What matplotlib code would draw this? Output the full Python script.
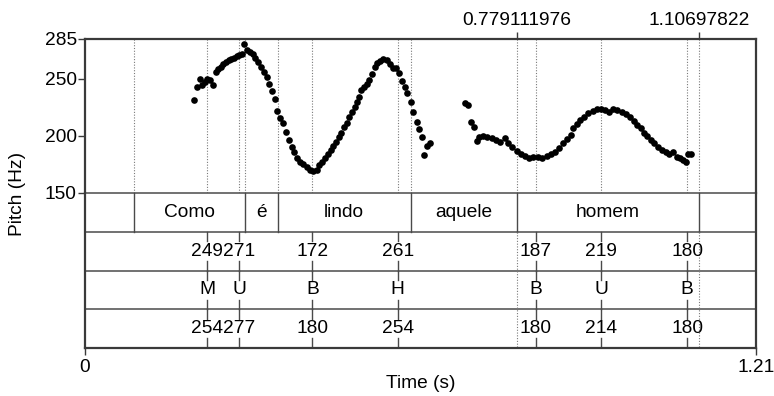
import matplotlib
matplotlib.use("Agg")
import matplotlib.pyplot as plt

plt.rcParams['font.family'] = ['Liberation Sans', 'DejaVu Sans']

# --- data ---
# pitch contour (time s, Hz)
t_seg1 = [0.1966, 0.2020, 0.2074, 0.2116, 0.2164, 0.2206, 0.2254, 0.2314, 0.2362, 0.2404,
          0.2447, 0.2494, 0.2543, 0.2591, 0.2638, 0.2687, 0.2735, 0.2783, 0.2831, 0.2873,
          0.2916, 0.2976, 0.3024, 0.3072, 0.3126, 0.3174, 0.3228, 0.3276, 0.3324, 0.3372,
          0.3421, 0.3468, 0.3517, 0.3571, 0.3619, 0.3673, 0.3727, 0.3769, 0.3818, 0.3877,
          0.3937, 0.3998, 0.4058, 0.4118, 0.4178, 0.4226, 0.4280, 0.4328, 0.4377, 0.4431,
          0.4478, 0.4527, 0.4575, 0.4622, 0.4671, 0.4719, 0.4766, 0.4815, 0.4864, 0.4911,
          0.4947, 0.4983, 0.5032, 0.5080, 0.5127, 0.5176, 0.5225, 0.5271, 0.5320, 0.5380,
          0.5441, 0.5500, 0.5560, 0.5610, 0.5670, 0.5717, 0.5766, 0.5813, 0.5874, 0.5921,
          0.5982, 0.6029, 0.6078, 0.6119, 0.6168, 0.6222]
f_seg1 = [231.2, 242.9, 250.0, 245.0, 247.3, 250.0, 248.8, 245.0, 256.0, 258.7,
          260.7, 263.0, 264.8, 266.3, 267.5, 268.6, 269.8, 270.7, 271.9, 280.3,
          275.4, 273.3, 271.6, 268.6, 264.6, 260.7, 256.0, 251.7, 245.8, 239.7,
          232.1, 221.6, 215.5, 211.1, 203.2, 196.5, 190.6, 186.2, 180.4, 177.4,
          175.2, 172.5, 170.2, 169.6, 170.2, 174.5, 176.9, 180.4, 184.2, 187.7,
          191.5, 195.0, 199.4, 202.9, 207.6, 211.6, 216.9, 221.3, 225.7, 230.0,
          233.9, 240.3, 243.2, 245.5, 249.0, 254.3, 260.7, 263.7, 266.0, 267.2,
          266.6, 263.1, 259.3, 259.3, 255.5, 248.5, 243.2, 237.9, 230.0, 221.3,
          212.5, 205.8, 198.8, 183.3, 191.2, 194.1]

t_seg2 = [0.6853, 0.6913, 0.6955, 0.7015, 0.7063, 0.7111, 0.7183, 0.7255, 0.7334, 0.7412,
          0.7484, 0.7574, 0.7634, 0.7706, 0.7785, 0.7858, 0.7935, 0.8013, 0.8085, 0.8164,
          0.8248, 0.8326, 0.8398, 0.8476, 0.8548, 0.8615, 0.8687, 0.8759, 0.8806, 0.8867,
          0.8927, 0.8999, 0.9077, 0.9156, 0.9228, 0.9300, 0.9378, 0.9456, 0.9528, 0.9600,
          0.9679, 0.9751, 0.9829, 0.9901, 0.9960, 1.0021, 1.0081, 1.0141, 1.0202, 1.0261,
          1.0328, 1.0400, 1.0472, 1.0538, 1.0610, 1.0671, 1.0730, 1.0790, 1.0839, 1.0880,
          1.0929]
f_seg2 = [228.6, 227.1, 212.0, 208.1, 195.9, 199.4, 200.3, 199.4, 198.2, 196.5,
          195.0, 198.0, 194.1, 190.6, 187.1, 184.2, 182.4, 181.0, 181.8, 181.3,
          181.0, 182.7, 183.9, 186.2, 189.2, 193.6, 197.1, 200.8, 206.7, 210.5,
          214.0, 216.9, 219.9, 221.9, 223.4, 223.6, 222.8, 221.3, 223.4, 222.8,
          220.7, 219.0, 216.4, 213.1, 209.6, 206.7, 202.9, 200.0, 196.5, 194.1,
          190.6, 187.7, 185.7, 184.2, 186.2, 181.8, 180.4, 179.0, 176.9, 183.9,
          184.2]

# text grid
word_bounds = [0.0889, 0.289, 0.348, 0.587, 0.779111976, 1.10697822]
words = ["Como", "é", "lindo", "aquele", "homem"]
point_times = [0.220, 0.278, 0.410, 0.564, 0.813, 0.931, 1.086]
f0_target = ["249", "271", "172", "261", "187", "219", "180"]
tones = ["M", "U", "B", "H", "B", "U", "B"]
f0_real = ["254", "277", "180", "254", "180", "214", "180"]
top_marks = [0.779111976, 1.10697822]
top_labels = ["0.779111976", "1.10697822"]

t_end = 1.21
fmin, fmax = 150, 285

W, H = 774, 396
fig = plt.figure(figsize=(W / 100, H / 100), dpi=100)

L, R = 85, 756
top, mid, bot = 39, 193, 348
ax = fig.add_axes([L / W, 1 - mid / H, (R - L) / W, (mid - top) / H])
axt = fig.add_axes([L / W, 1 - bot / H, (R - L) / W, (bot - mid) / H])

frame_c = '#3a3a3a'
line_c = '#4a4a4a'
dot_c = '#7a7a7a'
fs = 13.8
dotted = (0, (1, 1.5))

# ---- pitch panel ----
for x in word_bounds + point_times:
    ax.axvline(x, color=dot_c, lw=0.8, ls=dotted, zorder=1)
ax.plot(t_seg1, f_seg1, 'o', color='black', ms=4.8, mec='none', zorder=3)
ax.plot(t_seg2, f_seg2, 'o', color='black', ms=4.8, mec='none', zorder=3)
ax.set_xlim(0, t_end)
ax.set_ylim(fmin, fmax)
ax.set_yticks([150, 200, 250, 285])
ax.set_yticklabels(["150", "200", "250", "285"])
ax.tick_params(axis='y', direction='out', length=5, width=1, pad=1,
               labelsize=fs, color=frame_c)
ax.set_xticks(top_marks)
ax.set_xticklabels(top_labels)
ax.tick_params(axis='x', top=True, labeltop=True, bottom=False, labelbottom=False,
               direction='out', length=5, width=1, pad=2, labelsize=fs, color=frame_c)
for s in ['top', 'left', 'right']:
    ax.spines[s].set_linewidth(1.6)
    ax.spines[s].set_color(frame_c)
ax.spines['bottom'].set_visible(False)

# ---- tiers ----
axt.set_xlim(0, t_end)
axt.set_ylim(4, 0)
for y in [0, 1, 2, 3]:
    axt.axhline(y, color=line_c, lw=1.1, clip_on=False)

# word tier
for x in word_bounds:
    axt.plot([x, x], [0, 1], color=line_c, lw=1)
for i, w in enumerate(words):
    xc = (word_bounds[i] + word_bounds[i + 1]) / 2
    axt.text(xc, 0.5, w, ha='center', va='center', fontsize=fs)

# marks carried through the point tiers
for x in top_marks:
    axt.plot([x, x], [1, 4], color=dot_c, lw=0.8, ls=dotted)

# point tiers
tick_len = 0.25
for row, labels in enumerate([f0_target, tones, f0_real], start=1):
    for x, lab in zip(point_times, labels):
        axt.plot([x, x], [row, row + tick_len], color=line_c, lw=1)
        axt.plot([x, x], [row + 1 - tick_len, row + 1], color=line_c, lw=1)
        axt.text(x, row + 0.5, lab, ha='center', va='center', fontsize=fs)

axt.set_yticks([])
axt.set_xticks([0, t_end])
axt.set_xticklabels(["0", "1.21"])
axt.tick_params(axis='x', direction='out', length=5, width=1, pad=3,
                labelsize=fs, color=frame_c)
for s in ['bottom', 'left', 'right']:
    axt.spines[s].set_linewidth(1.6)
    axt.spines[s].set_color(frame_c)
axt.spines['top'].set_visible(False)

fig.text((L + R) / 2 / W, 1 - 383 / H, "Time (s)", ha='center', va='center', fontsize=fs)
fig.text(18 / W, 1 - 193.5 / H, "Pitch (Hz)", ha='center', va='center',
         rotation=90, fontsize=fs)

fig.savefig("out.png", dpi=100)
